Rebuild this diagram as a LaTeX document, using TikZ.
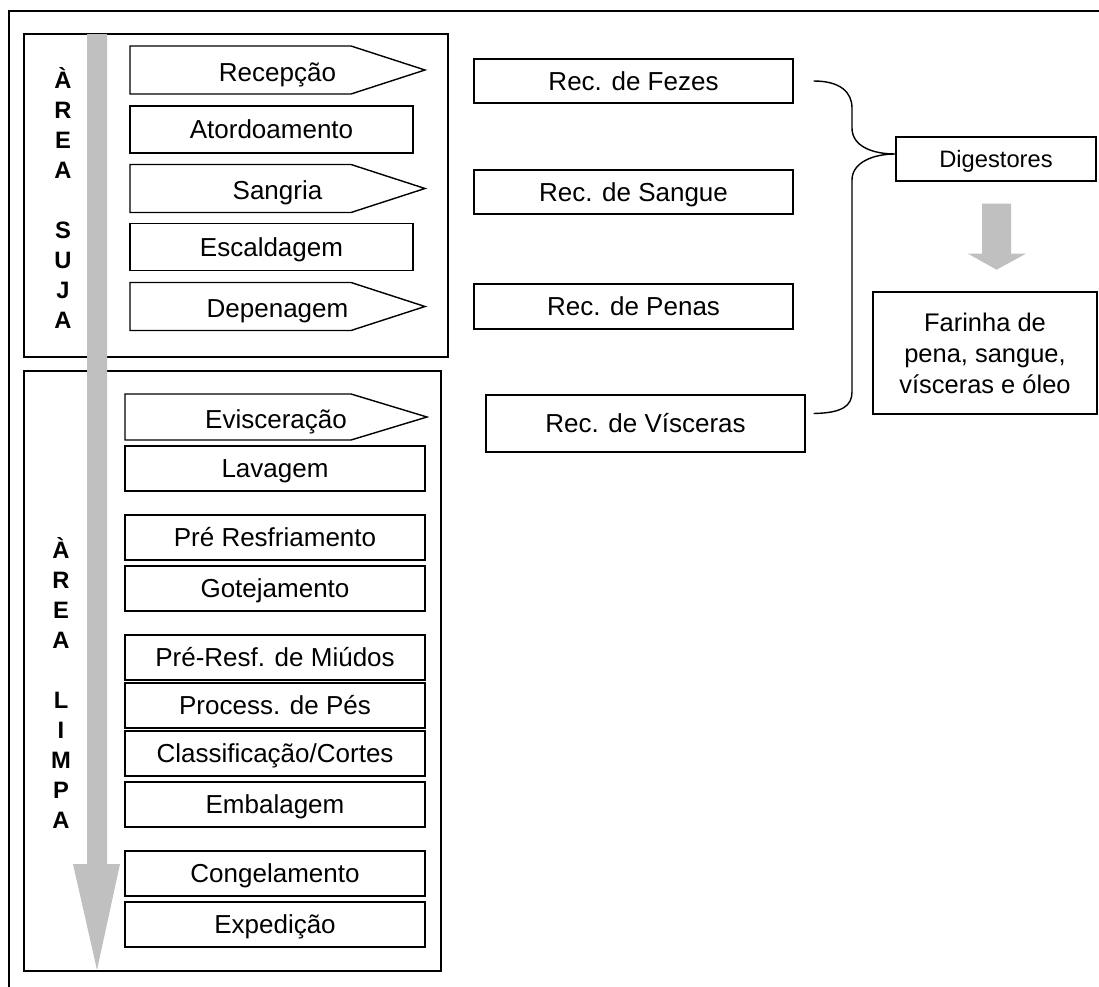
\documentclass[tikz,border=0pt]{standalone}
\usepackage{fontspec}
\setmainfont{Liberation Sans}
\usepackage{xcolor}
\usepackage{tikz}
\usetikzlibrary{calc}

\definecolor{arrowgray}{RGB}{192,192,192}
\tikzset{
  stepbox/.style={draw, line width=0.8pt, inner sep=0pt, text height=10.6pt, text depth=0pt,
    font=\fontsize{14.8}{17}\selectfont},
  steptext/.style={inner sep=0pt, text height=10.6pt, text depth=0pt,
    font=\fontsize{14.8}{17}\selectfont},
  steparrow/.style={draw, line width=0.8pt},
  areabox/.style={draw, line width=1pt},
  arealabel/.style={anchor=north, inner sep=0pt, align=center,
    font=\bfseries\fontsize{13.5}{17.07}\selectfont},
}

\begin{document}
\begin{tikzpicture}[x=0.02cm, y=-0.02cm]
		\useasboundingbox (0,0) rectangle (1099,987);
		% moldura
		\draw[line width=1.2pt] (9,987) -- (9,11) -- (1099,11);
		% areas suja e limpa
		\draw[areabox] (24,34) rectangle (448,357);
		\draw[areabox] (24,371) rectangle (441,971);
		\fill[arrowgray] (87,34) -- (107,34) -- (107,864) -- (120,864) -- (97,970) -- (73,864) -- (87,864) -- cycle;
		\node[arealabel] (suja) at (63,67) {À\\R\\E\\A\\[17.07pt]S\\U\\J\\A};
		\node[arealabel] (limpa) at (61,537) {À\\R\\E\\A\\[17.07pt]L\\I\\M\\P\\A};
		% area suja
		\foreach \nm/\yc/\txt in {recep/70/Recepção, sangria/188.5/Sangria, depen/306.5/Depenagem}{
			\draw[steparrow] (130,\yc-24) -- (351,\yc-24) -- (425,\yc) -- (351,\yc+24) -- (130,\yc+24) -- cycle;
			\node[steptext] (\nm) at (277.5,\yc+2) {\txt};
		}
		\foreach \nm/\yc/\txt in {ator/129.5/Atordoamento, escal/247/Escaldagem}
			\node[stepbox, minimum width=5.66cm, minimum height=0.94cm] (\nm) at (271.5,\yc) {\txt};
		% area limpa
		\draw[steparrow] (125,394) -- (351,394) -- (427,417) -- (351,440) -- (125,440) -- cycle;
		\node[steptext] (evisc) at (276,419) {Evisceração};
		\foreach \nm/\yc/\txt in {lavag/468.5/Lavagem, preresf/537.5/Pré Resfriamento, gotej/588.5/Gotejamento,
				miudos/657.5/Pré-Resf. de Miúdos, pes/705.5/Process. de Pés, cortes/753.5/{Classificação/Cortes},
				embal/804.5/Embalagem, congel/873.5/Congelamento, exped/924.5/Expedição}
			\node[stepbox, minimum width=6cm, minimum height=0.9cm] (\nm) at (275,\yc) {\txt};
		% recolhimento
		\node[stepbox, minimum width=6.38cm, minimum height=0.88cm] (fezes) at (633.5,81) {Rec. de Fezes};
		\node[stepbox, minimum width=6.38cm, minimum height=0.88cm] (sangue) at (633.5,192) {Rec. de Sangue};
		\node[stepbox, minimum width=6.38cm, minimum height=0.9cm] (penas) at (633.5,306.5) {Rec. de Penas};
		\node[stepbox, minimum width=6.38cm, minimum height=1.14cm] (visc) at (645.5,423.5) {Rec. de Vísceras};
		\node[stepbox, font=\fontsize{13.5}{15}\selectfont, text height=9.6pt, minimum width=4cm, minimum height=0.88cm] (dig) at (996,159) {Digestores};
		\node[draw, line width=0.8pt, align=center, inner sep=0pt, minimum width=4.48cm, minimum height=2.44cm,
			font=\fontsize{14.5}{17.6}\selectfont] (farinha) at (985,353) {Farinha de\\pena, sangue,\\vísceras e óleo};
		\draw[line width=0.8pt] ($(fezes.east)+(20,0)$) .. controls (840,81) and (852,92) .. (852,108) -- (852,128)
			.. controls (852,146) and (872,154) .. ($(dig.west)+(0,-5)$)
			.. controls (872,154) and (852,163) .. (852,180) -- (852,392)
			.. controls (852,406) and (842,413) .. ($(visc.east)+(8,-10)$);
		\fill[arrowgray] ($(dig.south)+(-14,22)$) -- ++(29,0) -- ++(0,50) -- ++(15,0) -- ++(-29.5,16) -- ++(-28.5,-16) -- ++(14,0) -- cycle;
	\end{tikzpicture}
\end{document}
